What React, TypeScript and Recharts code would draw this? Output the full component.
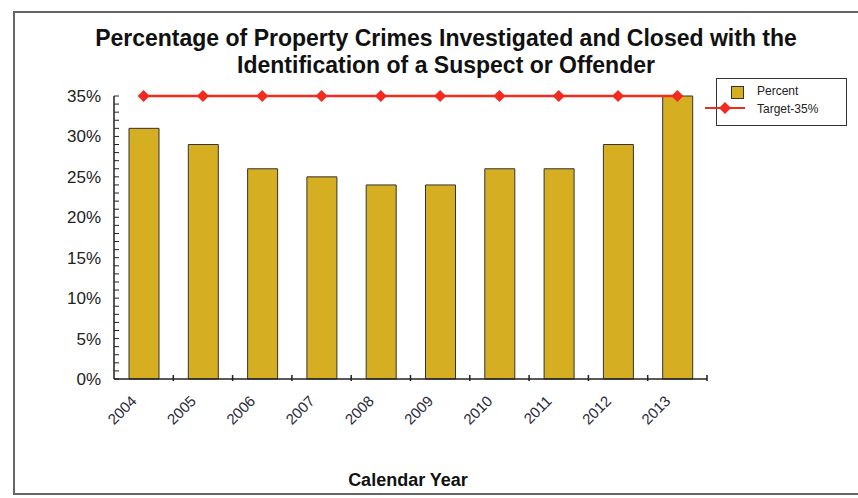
import React from "react";
import { Bar, ComposedChart, Line, XAxis, YAxis } from "recharts";

const years = ["2004", "2005", "2006", "2007", "2008", "2009", "2010", "2011", "2012", "2013"];
const percent = [31, 29, 26, 25, 24, 24, 26, 26, 29, 35];
const target = [35, 35, 35, 35, 35, 35, 35, 35, 35, 35];
const yTicks = Array.from({ length: 36 }, (_, i) => i);

const data = years.map((year, i) => ({ year, percent: percent[i], target: target[i] }));

const W = 858;
const H = 498;
const PLOT_LEFT = 114;
const PLOT_RIGHT = 707;
const band = (PLOT_RIGHT - PLOT_LEFT) / years.length;

const GOLD = "#D6AE22";
const RED = "#F22B1E";
const FONT = "'Liberation Sans', Arial, sans-serif";

function YTick(props: any) {
  const { x, y, payload } = props;
  const v = payload.value as number;
  return (
    <g>
      <line x1={x} x2={x + 5} y1={y} y2={y} stroke="#222" strokeWidth={1} />
      {v % 5 === 0 && (
        <text x={x - 13} y={y} dy={6} textAnchor="end" fontSize={17} fill="#222" fontFamily={FONT}>
          {v}%
        </text>
      )}
    </g>
  );
}

function XTick(props: any) {
  const { x, y, payload } = props;
  const tx = x - 6;
  const ty = y + 21;
  return (
    <g>
      <line x1={x + band / 2} x2={x + band / 2} y1={y} y2={y - 6} stroke="#222" strokeWidth={1.5} />
      <text
        x={tx}
        y={ty}
        textAnchor="end"
        fontSize={15}
        fill="#2a2a3a"
        fontFamily={FONT}
        transform={`rotate(-45 ${tx} ${ty})`}
      >
        {payload.value}
      </text>
    </g>
  );
}

function Diamond(props: any) {
  const { cx, cy } = props;
  if (cx == null || cy == null) return null;
  return <polygon points={`${cx},${cy - 6} ${cx + 6},${cy} ${cx},${cy + 6} ${cx - 6},${cy}`} fill={RED} />;
}

function LegendBox() {
  return (
    <div
      style={{
        position: "absolute",
        left: 716,
        top: 78,
        width: 131,
        height: 48,
        border: "1.5px solid #333",
        background: "#fff",
        fontFamily: FONT,
        fontSize: 12,
        color: "#222",
        boxSizing: "border-box",
      }}
    >
      <div style={{ position: "absolute", left: 14, top: 7, width: 11, height: 11, background: GOLD, border: "1px solid #333" }} />
      <div style={{ position: "absolute", left: 40, top: 5 }}>Percent</div>
      <svg style={{ position: "absolute", left: -12, top: 21, overflow: "visible" }} width={40} height={16}>
        <line x1={0} x2={40} y1={8} y2={8} stroke={RED} strokeWidth={2} />
        <polygon points="20,2 26,8 20,14 14,8" fill={RED} />
      </svg>
      <div style={{ position: "absolute", left: 40, top: 23 }}>Target-35%</div>
    </div>
  );
}

export default function App() {
  return (
    <div style={{ position: "absolute", left: 0, top: 0, width: W, height: H, background: "#fff", overflow: "hidden" }}>
      <div
        style={{
          position: "absolute",
          left: 13,
          top: 11,
          width: W,
          height: 484,
          border: "2px solid #666",
          boxSizing: "border-box",
        }}
      />
      <div
        style={{
          position: "absolute",
          left: 0,
          width: 892,
          top: 25,
          textAlign: "center",
          fontFamily: FONT,
          fontWeight: "bold",
          fontSize: 23,
          lineHeight: "27px",
          color: "#111",
        }}
      >
        Percentage of Property Crimes Investigated and Closed with the
        <br />
        Identification of a Suspect or Offender
      </div>
      <div
        style={{
          position: "absolute",
          left: 0,
          width: 816,
          top: 470,
          textAlign: "center",
          fontFamily: FONT,
          fontWeight: "bold",
          fontSize: 18,
          color: "#111",
        }}
      >
        Calendar Year
      </div>
      <ComposedChart
        style={{ position: "absolute", left: 0, top: 0 }}
        width={W}
        height={H}
        data={data}
        margin={{ top: 96, right: W - PLOT_RIGHT, bottom: 59, left: PLOT_LEFT - 50 }}
        barCategoryGap={0}
      >
        <XAxis
          dataKey="year"
          height={60}
          interval={0}
          tickLine={false}
          tickSize={0}
          tick={<XTick />}
          axisLine={{ stroke: "#222", strokeWidth: 1.5 }}
        />
        <YAxis
          width={50}
          domain={[0, 35]}
          ticks={yTicks}
          interval={0}
          tickLine={false}
          tickSize={0}
          tickMargin={0}
          tick={<YTick />}
          axisLine={{ stroke: "#222", strokeWidth: 1.5 }}
        />
        <Bar dataKey="percent" name="Percent" fill={GOLD} stroke="#333" strokeWidth={1} barSize={30} isAnimationActive={false} />
        <Line
          dataKey="target"
          name="Target-35%"
          stroke={RED}
          strokeWidth={2.5}
          dot={<Diamond />}
          activeDot={false}
          isAnimationActive={false}
        />
      </ComposedChart>
      <LegendBox />
    </div>
  );
}
